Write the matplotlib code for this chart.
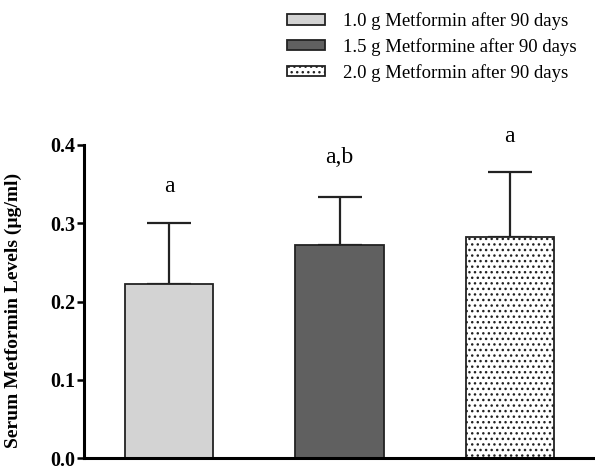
import matplotlib
matplotlib.use("Agg")
import matplotlib.pyplot as plt

labels = ["1.0 g Metformin after 90 days",
          "1.5 g Metformine after 90 days",
          "2.0 g Metformin after 90 days"]
means = [0.223, 0.272, 0.283]
errors = [0.077, 0.061, 0.083]
letters = ["a", "a,b", "a"]
letter_y = [0.347, 0.384, 0.411]
yticks = [0.0, 0.1, 0.2, 0.3, 0.4]

plt.rcParams['font.family'] = ['Liberation Serif', 'DejaVu Serif']
plt.rcParams['hatch.linewidth'] = 1.0

fig = plt.figure(figsize=(5.95, 4.69), dpi=100)
ax = fig.add_axes([84/595, 1-458/469, 1-84/595, (458-145)/469])

x = [0, 1, 2]
faces = ['#d3d3d3', '#606060', 'white']
hatches = [None, None, '...']
bars = []
for i in range(3):
    b = ax.bar(x[i], means[i], width=0.52, color=faces[i], edgecolor='#222222',
               linewidth=1.3, hatch=hatches[i], label=labels[i], zorder=2)
    bars.append(b)
    ax.errorbar(x[i], means[i], yerr=[[0], [errors[i]]], fmt='none',
                ecolor='#222222', elinewidth=1.6, capsize=16, capthick=1.6, zorder=1)
    ax.text(x[i], letter_y[i], letters[i], ha='center', va='center',
            fontsize=17, clip_on=False)

ax.set_xlim(-0.5, 2.5)
ax.set_ylim(0, 0.4)
ax.set_yticks(yticks)
ax.set_yticklabels([f"{t:.1f}" for t in yticks], fontsize=14.5, fontweight='bold')
ax.set_xticks([])
for s in ['top', 'right']:
    ax.spines[s].set_visible(False)
ax.spines['left'].set_linewidth(2.2)
ax.spines['bottom'].set_linewidth(2.2)
ax.tick_params(axis='y', direction='out', length=5, width=1.8, pad=1)
ax.set_ylabel("Serum Metformin Levels (µg/ml)", fontsize=14, fontweight='bold')
ax.yaxis.set_label_coords(-(84-22)/511, 0.47)

fig.legend(handles=[b[0] for b in bars], labels=labels, loc='upper left',
           bbox_to_anchor=(275/595, 1-0/469), frameon=False, fontsize=13.5,
           handlelength=2.0, handleheight=0.5, labelspacing=0.42, handletextpad=1.0,
           borderpad=0.15)

fig.savefig("out.png", dpi=100)
